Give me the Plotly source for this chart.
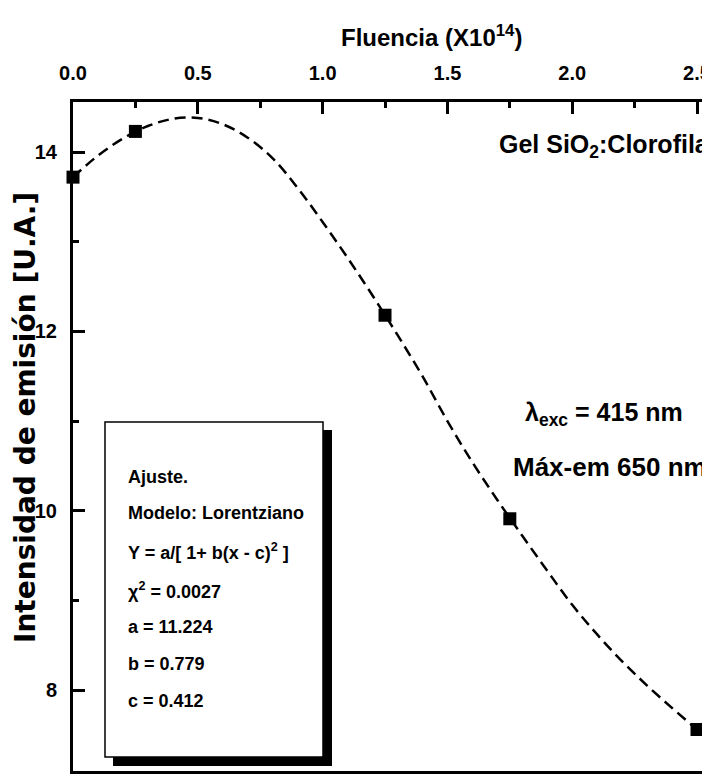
import plotly.graph_objects as go

# Measured data points
fluencia = [0.0, 0.25, 1.25, 1.75, 2.5]
intensidad = [13.72, 14.23, 12.18, 9.91, 7.56]

# Dashed fitted curve
fit_x = [0.0, 0.1, 0.2, 0.3, 0.4, 0.5, 0.6, 0.7, 0.8, 0.9, 1.0, 1.1, 1.2, 1.3,
         1.4, 1.5, 1.6, 1.7, 1.8, 1.9, 2.0, 2.1, 2.2, 2.3, 2.4, 2.5]
fit_y = [13.72, 13.96, 14.15, 14.29, 14.37, 14.38, 14.31, 14.16, 13.93, 13.60, 13.22, 12.82, 12.40, 11.96,
         11.50, 11.00, 10.54, 10.12, 9.72, 9.33, 8.95, 8.62, 8.32, 8.05, 7.80, 7.56]

x_ticks = [0.0, 0.5, 1.0, 1.5, 2.0, 2.5]
x_ticklabels = ["0.0", "0.5", "1.0", "1.5", "2.0", "2.5"]
y_ticks = [8, 10, 12, 14]
y_ticklabels = ["8", "10", "12", "14"]

fit_lines = [
    "Ajuste.",
    "Modelo: Lorentziano",
    "Y = a/[ 1+ b(x - c)<sup>2</sup> ]",
    "χ<sup>2</sup> = 0.0027",
    "a = 11.224",
    "b = 0.779",
    "c = 0.412",
]

SANS = "Liberation Sans, Arial, sans-serif"
WIDE = "DejaVu Sans, sans-serif"
# The page body adds an 8px offset; the figure is laid out in page pixels minus 8.
OFF = 8
W, H = 710 - OFF, 779 - OFF
L, R, T, B = 73 - OFF, 4, 102 - OFF, 8
PW, PH = W - L - R, H - T - B


def px(x):
    return (x - OFF - L) / PW


def py(y):
    return (H - B - (y - OFF)) / PH


fig = go.Figure()
fig.add_trace(go.Scatter(x=fit_x, y=fit_y, mode="lines",
                         line=dict(color="black", width=2.5, dash="11px,6px", shape="spline"),
                         showlegend=False, hoverinfo="skip"))
fig.add_trace(go.Scatter(x=fluencia, y=intensidad, mode="markers",
                         marker=dict(symbol="square", size=13, color="black"), cliponaxis=False, showlegend=False))

shapes = [
    dict(type="rect", xref="paper", yref="paper", x0=px(113), x1=px(332), y0=py(766), y1=py(430),
         fillcolor="black", line=dict(width=0), layer="above"),
    dict(type="rect", xref="paper", yref="paper", x0=px(105), x1=px(323), y0=py(757), y1=py(422),
         fillcolor="white", line=dict(color="black", width=1.5), layer="above"),
]

annotations = []
line_ys = [477, 513, 551, 590, 627, 664, 701]
for txt, yy in zip(fit_lines, line_ys):
    annotations.append(dict(xref="paper", yref="paper", x=px(126), y=py(yy), text="<b>" + txt + "</b>",
                            showarrow=False, xanchor="left", yanchor="middle",
                            font=dict(family=SANS, size=18, color="black")))

annotations += [
    dict(xref="paper", yref="paper", x=px(431), y=py(36), text="<b>Fluencia (X10<sup>14</sup>)</b>",
         showarrow=False, xanchor="center", yanchor="middle", font=dict(family=SANS, size=24, color="black")),
    dict(xref="paper", yref="paper", x=px(25), y=py(418), text="<b>Intensidad de emisión [U.A.]</b>",
         textangle=-90, showarrow=False, xanchor="center", yanchor="middle",
         font=dict(family=WIDE, size=28, color="black")),
    dict(xref="paper", yref="paper", x=px(712), y=py(146), text="<b>Gel SiO<sub>2</sub>:Clorofila</b>",
         showarrow=False, xanchor="right", yanchor="middle", font=dict(family=SANS, size=25, color="black")),
    dict(xref="paper", yref="paper", x=px(523), y=py(414), text="<b>λ<sub>exc</sub> = 415 nm</b>",
         showarrow=False, xanchor="left", yanchor="middle", font=dict(family=SANS, size=25, color="black")),
    dict(xref="paper", yref="paper", x=px(511), y=py(467), text="<b>Máx-em 650 nm</b>",
         showarrow=False, xanchor="left", yanchor="middle", font=dict(family=SANS, size=26, color="black")),
]

fig.update_layout(
    width=W, height=H,
    margin=dict(l=L, r=R, t=T, b=B, autoexpand=False),
    paper_bgcolor="white", plot_bgcolor="white",
    shapes=shapes, annotations=annotations,
    xaxis=dict(side="top", range=[0, 2.536], tickvals=x_ticks, ticktext=x_ticklabels, automargin=False,
               ticks="inside", ticklen=12, tickwidth=2.5, tickcolor="black",
               minor=dict(ticks="inside", ticklen=6, tickwidth=2.5, tickcolor="black", dtick=0.25, tick0=0),
               showline=True, linewidth=3, linecolor="black", mirror=True, showgrid=False, zeroline=False,
               ticklabeloverflow="allow",
               tickfont=dict(family=SANS, size=20, color="black", weight="bold"), ticklabelstandoff=11),
    yaxis=dict(range=[7.097, 14.558], tickvals=y_ticks, ticktext=y_ticklabels, automargin=False,
               ticks="inside", ticklen=12, tickwidth=2.5, tickcolor="black",
               minor=dict(ticks="inside", ticklen=6, tickwidth=2.5, tickcolor="black", dtick=1, tick0=0),
               showline=True, linewidth=3, linecolor="black", mirror=True, showgrid=False, zeroline=False,
               ticklabeloverflow="allow",
               tickfont=dict(family=SANS, size=20, color="black", weight="bold"), ticklabelstandoff=9),
)

fig.write_html("out.html")
